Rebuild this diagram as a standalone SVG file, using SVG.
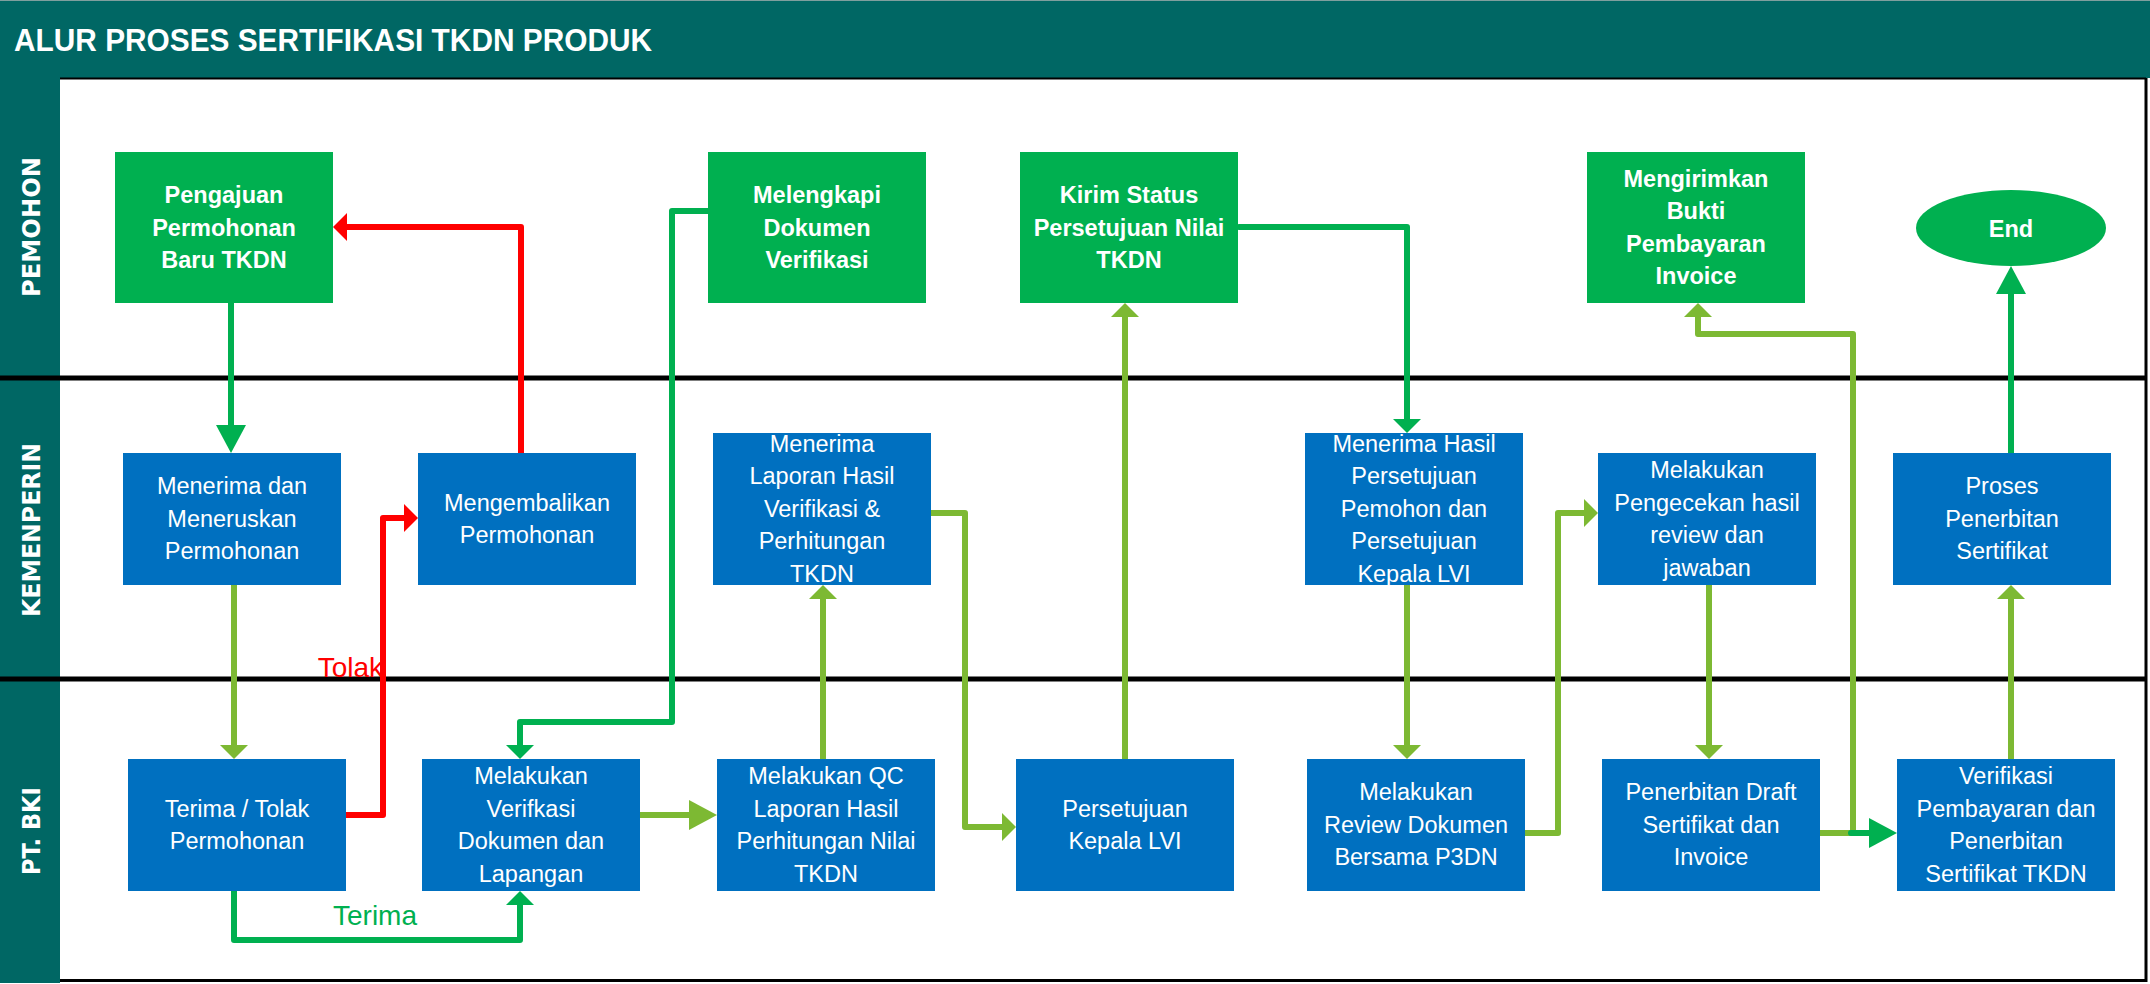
<svg xmlns="http://www.w3.org/2000/svg" width="2150" height="984" viewBox="0 0 2150 984">
<style>
.lane{font-family:"DejaVu Sans",Verdana,sans-serif;font-weight:bold;font-size:24px;fill:#fff}
.nt{font-family:"Liberation Sans",Arial,sans-serif;font-size:23.5px;fill:#fff;text-anchor:middle}
.b{font-weight:bold}
.gn{fill:#00B050}
.bl{fill:#0070C0}
.c{fill:none;stroke-width:6;stroke-linecap:round;stroke-linejoin:round}
.dg{stroke:#00B050}
.lg{stroke:#7DB933}
.rd{stroke:#FF0000}
.lbl{font-family:"Liberation Sans",Arial,sans-serif;font-size:28px}
</style>
<defs>
<marker id="dgs" markerUnits="userSpaceOnUse" markerWidth="14" markerHeight="28" refX="0" refY="14" orient="auto"><path d="M0,0 L14,14 L0,28 z" fill="#00B050"/></marker>
<marker id="dgl" markerUnits="userSpaceOnUse" markerWidth="28" markerHeight="30" refX="0" refY="15" orient="auto"><path d="M0,0 L28,15 L0,30 z" fill="#00B050"/></marker>
<marker id="lgs" markerUnits="userSpaceOnUse" markerWidth="14" markerHeight="28" refX="0" refY="14" orient="auto"><path d="M0,0 L14,14 L0,28 z" fill="#7DB933"/></marker>
<marker id="lgl" markerUnits="userSpaceOnUse" markerWidth="28" markerHeight="30" refX="0" refY="15" orient="auto"><path d="M0,0 L28,15 L0,30 z" fill="#7DB933"/></marker>
<marker id="rds" markerUnits="userSpaceOnUse" markerWidth="14" markerHeight="28" refX="0" refY="14" orient="auto"><path d="M0,0 L14,14 L0,28 z" fill="#FF0000"/></marker>
</defs>

<g id="frame">
<rect x="0" y="0" width="2150" height="984" fill="#fff"/>
<rect x="0" y="0" width="2150" height="78" fill="#006764"/>
<line x1="0" y1="0.5" x2="2150" y2="0.5" stroke="#7f9f9e" stroke-width="1"/>
<rect x="0" y="78" width="60" height="905" fill="#006764"/>
<line x1="60" y1="78.5" x2="2146" y2="78.5" stroke="#000" stroke-width="2"/>
<line x1="2146" y1="78" x2="2146" y2="982" stroke="#000" stroke-width="3"/>
<line x1="0" y1="378" x2="2146" y2="378" stroke="#000" stroke-width="5"/>
<line x1="0" y1="679" x2="2146" y2="679" stroke="#000" stroke-width="5"/>
<line x1="60" y1="980.5" x2="2147" y2="980.5" stroke="#000" stroke-width="3"/>
<text x="14" y="51" font-family="Liberation Sans,Arial,sans-serif" font-weight="bold" font-size="32" fill="#fff" textLength="638" lengthAdjust="spacingAndGlyphs">ALUR PROSES SERTIFIKASI TKDN PRODUK</text>
</g>

<g id="lanes">
<text class="lane" x="40" y="227" transform="rotate(-90 40 227)" text-anchor="middle" textLength="140" lengthAdjust="spacingAndGlyphs">PEMOHON</text>
<text class="lane" x="40" y="530" transform="rotate(-90 40 530)" text-anchor="middle" textLength="174" lengthAdjust="spacingAndGlyphs">KEMENPERIN</text>
<text class="lane" x="40" y="831" transform="rotate(-90 40 831)" text-anchor="middle" textLength="88" lengthAdjust="spacingAndGlyphs">PT. BKI</text>
</g>

<g id="connectors">
<path class="c dg" d="M231,303 V425" marker-end="url(#dgl)"/>
<path class="c lg" d="M234,585 V745" marker-end="url(#lgs)"/>
<path class="c rd" d="M345,815 H383 V518 H404" marker-end="url(#rds)"/>
<path class="c rd" d="M521,453 V227 H347" marker-end="url(#rds)"/>
<path class="c dg" d="M708,211 H672 V722 H520 V745" marker-end="url(#dgs)"/>
<path class="c dg" d="M234,891 V940 H520 V905" marker-end="url(#dgs)"/>
<path class="c lg" d="M640,815 H689" marker-end="url(#lgl)"/>
<path class="c lg" d="M823,759 V599" marker-end="url(#lgs)"/>
<path class="c lg" d="M931,513 H965 V827 H1002" marker-end="url(#lgs)"/>
<path class="c lg" d="M1125,759 V317" marker-end="url(#lgs)"/>
<path class="c dg" d="M1239,227 H1407 V419" marker-end="url(#dgs)"/>
<path class="c lg" d="M1407,585 V745" marker-end="url(#lgs)"/>
<path class="c lg" d="M1525,833 H1558 V513 H1584" marker-end="url(#lgs)"/>
<path class="c lg" d="M1709,585 V745" marker-end="url(#lgs)"/>
<path class="c lg" d="M1819,833 H1853 V334 H1698 V317" marker-end="url(#lgs)"/>
<path class="c dg" d="M1851,833 H1869" marker-end="url(#dgl)"/>
<path class="c lg" d="M2011,759 V599" marker-end="url(#lgs)"/>
<path class="c dg" d="M2011,453 V294" marker-end="url(#dgl)"/>
<text class="lbl" x="383" y="677" text-anchor="end" fill="#FF0000">Tolak</text>
<text class="lbl" x="333" y="925" fill="#00B050">Terima</text>
</g>

<g id="n-pengajuan"><rect class="gn" x="115" y="152" width="218" height="151"/>
<text class="nt b"><tspan x="224" y="203">Pengajuan</tspan><tspan x="224" y="236">Permohonan</tspan><tspan x="224" y="268">Baru TKDN</tspan></text></g>
<g id="n-melengkapi"><rect class="gn" x="708" y="152" width="218" height="151"/>
<text class="nt b"><tspan x="817" y="203">Melengkapi</tspan><tspan x="817" y="236">Dokumen</tspan><tspan x="817" y="268">Verifikasi</tspan></text></g>
<g id="n-kirim"><rect class="gn" x="1020" y="152" width="218" height="151"/>
<text class="nt b"><tspan x="1129" y="203">Kirim Status</tspan><tspan x="1129" y="236">Persetujuan Nilai</tspan><tspan x="1129" y="268">TKDN</tspan></text></g>
<g id="n-mengirimkan"><rect class="gn" x="1587" y="152" width="218" height="151"/>
<text class="nt b"><tspan x="1696" y="187">Mengirimkan</tspan><tspan x="1696" y="219">Bukti</tspan><tspan x="1696" y="252">Pembayaran</tspan><tspan x="1696" y="284">Invoice</tspan></text></g>
<g id="n-end"><ellipse class="gn" cx="2011" cy="228" rx="95" ry="38"/>
<text class="nt b" x="2011" y="237">End</text></g>

<g id="n-menerima"><rect class="bl" x="123" y="453" width="218" height="132"/>
<text class="nt"><tspan x="232" y="494">Menerima dan</tspan><tspan x="232" y="527">Meneruskan</tspan><tspan x="232" y="559">Permohonan</tspan></text></g>
<g id="n-mengembalikan"><rect class="bl" x="418" y="453" width="218" height="132"/>
<text class="nt"><tspan x="527" y="511">Mengembalikan</tspan><tspan x="527" y="543">Permohonan</tspan></text></g>
<g id="n-menerima-laporan"><rect class="bl" x="713" y="433" width="218" height="152"/>
<text class="nt"><tspan x="822" y="452">Menerima</tspan><tspan x="822" y="484">Laporan Hasil</tspan><tspan x="822" y="517">Verifikasi &amp;</tspan><tspan x="822" y="549">Perhitungan</tspan><tspan x="822" y="582">TKDN</tspan></text></g>
<g id="n-menerima-hasil"><rect class="bl" x="1305" y="433" width="218" height="152"/>
<text class="nt"><tspan x="1414" y="452">Menerima Hasil</tspan><tspan x="1414" y="484">Persetujuan</tspan><tspan x="1414" y="517">Pemohon dan</tspan><tspan x="1414" y="549">Persetujuan</tspan><tspan x="1414" y="582">Kepala LVI</tspan></text></g>
<g id="n-pengecekan"><rect class="bl" x="1598" y="453" width="218" height="132"/>
<text class="nt"><tspan x="1707" y="478">Melakukan</tspan><tspan x="1707" y="511">Pengecekan hasil</tspan><tspan x="1707" y="543">review dan</tspan><tspan x="1707" y="576">jawaban</tspan></text></g>
<g id="n-proses"><rect class="bl" x="1893" y="453" width="218" height="132"/>
<text class="nt"><tspan x="2002" y="494">Proses</tspan><tspan x="2002" y="527">Penerbitan</tspan><tspan x="2002" y="559">Sertifikat</tspan></text></g>

<g id="n-terima"><rect class="bl" x="128" y="759" width="218" height="132"/>
<text class="nt"><tspan x="237" y="817">Terima / Tolak</tspan><tspan x="237" y="849">Permohonan</tspan></text></g>
<g id="n-verifikasi-dok"><rect class="bl" x="422" y="759" width="218" height="132"/>
<text class="nt"><tspan x="531" y="784">Melakukan</tspan><tspan x="531" y="817">Verifkasi</tspan><tspan x="531" y="849">Dokumen dan</tspan><tspan x="531" y="882">Lapangan</tspan></text></g>
<g id="n-qc"><rect class="bl" x="717" y="759" width="218" height="132"/>
<text class="nt"><tspan x="826" y="784">Melakukan QC</tspan><tspan x="826" y="817">Laporan Hasil</tspan><tspan x="826" y="849">Perhitungan Nilai</tspan><tspan x="826" y="882">TKDN</tspan></text></g>
<g id="n-persetujuan"><rect class="bl" x="1016" y="759" width="218" height="132"/>
<text class="nt"><tspan x="1125" y="817">Persetujuan</tspan><tspan x="1125" y="849">Kepala LVI</tspan></text></g>
<g id="n-review"><rect class="bl" x="1307" y="759" width="218" height="132"/>
<text class="nt"><tspan x="1416" y="800">Melakukan</tspan><tspan x="1416" y="833">Review Dokumen</tspan><tspan x="1416" y="865">Bersama P3DN</tspan></text></g>
<g id="n-draft"><rect class="bl" x="1602" y="759" width="218" height="132"/>
<text class="nt"><tspan x="1711" y="800">Penerbitan Draft</tspan><tspan x="1711" y="833">Sertifikat dan</tspan><tspan x="1711" y="865">Invoice</tspan></text></g>
<g id="n-verifikasi-bayar"><rect class="bl" x="1897" y="759" width="218" height="132"/>
<text class="nt"><tspan x="2006" y="784">Verifikasi</tspan><tspan x="2006" y="817">Pembayaran dan</tspan><tspan x="2006" y="849">Penerbitan</tspan><tspan x="2006" y="882">Sertifikat TKDN</tspan></text></g>
</svg>
